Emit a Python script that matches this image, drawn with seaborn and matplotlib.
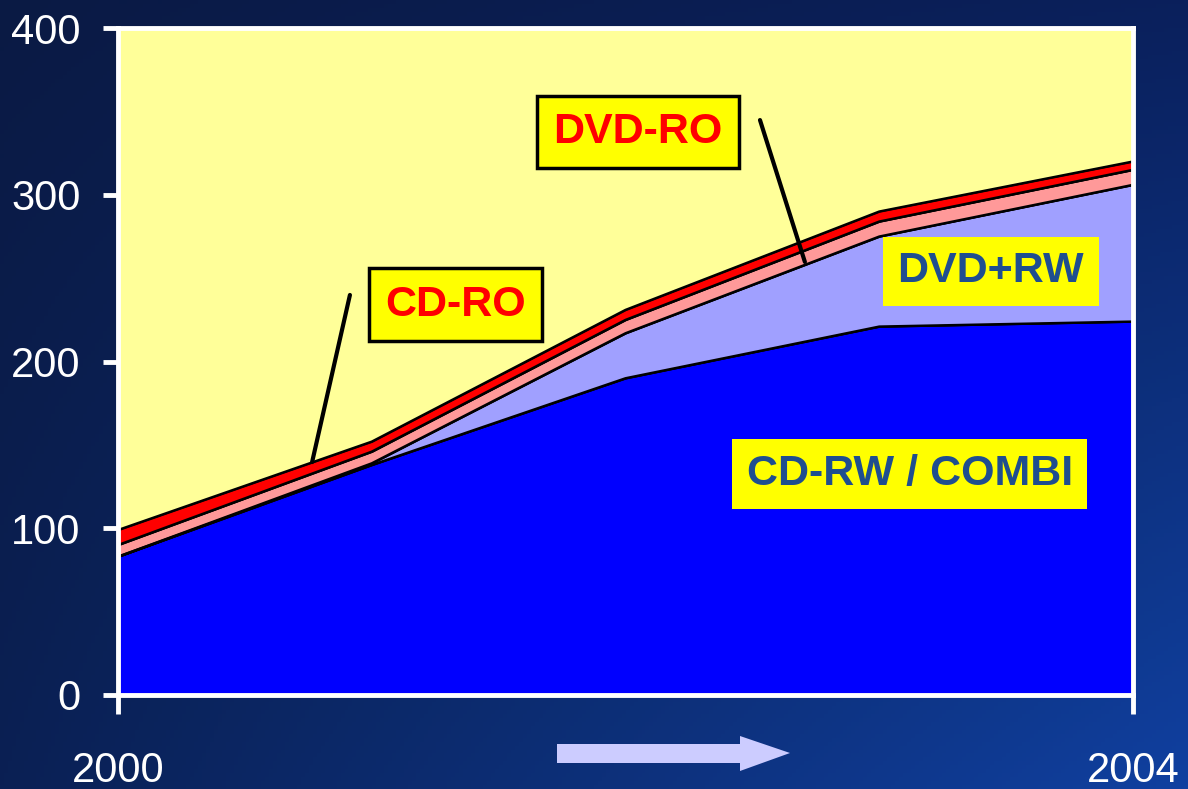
import numpy as np
import pandas as pd
import matplotlib
matplotlib.use("Agg")
import matplotlib.pyplot as plt
from matplotlib.patches import Polygon
import seaborn as sns

# ---- data (drive units, stacked) ----
years = [2000, 2001, 2002, 2003, 2004]
cd_rw_combi = [83, 138, 190, 221, 224]
dvd_plus_rw = [0, 1, 27, 54, 82]
dvd_ro = [7, 7, 8, 9, 9]
cd_ro = [9, 6, 6, 6, 5]
layer_names = ["CD-RW / COMBI", "DVD+RW", "DVD-RO", "CD-RO"]
layer_colors = ["#0000FF", "#A0A0FF", "#FF9999", "#FF0000"]
y_ticks = [0, 100, 200, 300, 400]
x_ticks = [2000, 2004]

sns.set_theme(style="white")
plt.rcParams["font.family"] = ["Liberation Sans", "DejaVu Sans"]

W, H = 1188, 789
fig = plt.figure(figsize=(W / 100, H / 100), dpi=100)

# dark blue gradient backdrop
bg = fig.add_axes([0, 0, 1, 1], zorder=-10)
gx = np.linspace(0, 1, 300)[None, :]
gy = np.linspace(0, 1, 200)[:, None]
tl = np.array([10, 26, 68]) / 255
tr = np.array([10, 32, 92]) / 255
bl = np.array([10, 32, 84]) / 255
br = np.array([16, 64, 160]) / 255
grad = ((1 - gx)[..., None] * (1 - gy)[..., None] * tl + gx[..., None] * (1 - gy)[..., None] * tr
        + (1 - gx)[..., None] * gy[..., None] * bl + gx[..., None] * gy[..., None] * br)
bg.imshow(grad, aspect="auto", extent=[0, 1, 0, 1], origin="upper")
bg.axis("off")

ax = fig.add_axes([118 / W, 94 / H, 1015 / W, 667 / H])
ax.set_facecolor("#FFFF99")

layers = [cd_rw_combi, dvd_plus_rw, dvd_ro, cd_ro]
ax.stackplot(years, *layers, colors=layer_colors, edgecolor="black", linewidth=1.2, zorder=2)

# boundary lines between the stacked layers
cum = np.cumsum(np.array(layers, dtype=float), axis=0)
long = pd.DataFrame({
    "year": np.tile(years, len(layer_names)),
    "top": cum.ravel(),
    "layer": np.repeat(layer_names, len(years)),
})
sns.lineplot(data=long, x="year", y="top", hue="layer", palette=["black"] * 4,
             linewidth=1.6, legend=False, ax=ax, zorder=3)

ax.set_xlim(2000, 2004)
ax.set_ylim(0, 400)
ax.set_xlabel("")
ax.set_ylabel("")
ax.set_xticks(x_ticks)
ax.set_xticklabels([str(v) for v in x_ticks])
ax.set_yticks(y_ticks)
ax.set_yticklabels([str(v) for v in y_ticks])
for s in ax.spines.values():
    s.set_color("white")
    s.set_linewidth(3.5)
    s.set_zorder(5)
ax.tick_params(axis="y", colors="white", labelcolor="white", length=11, width=3.5,
               pad=16, labelsize=30, left=True)
ax.tick_params(axis="x", colors="white", labelcolor="white", length=14, width=3.5,
               pad=26, labelsize=30, bottom=True)
ax.grid(False)

# callout labels
label_font = dict(fontsize=31, fontweight="bold", ha="center", va="center", zorder=6)
ax.text(2001.33, 234, "CD-RO", color="#FF0000",
        bbox=dict(boxstyle="square,pad=0.38", fc="#FFFF00", ec="black", lw=2.5), **label_font)
ax.text(2002.05, 337.6, "DVD-RO", color="#FF0000",
        bbox=dict(boxstyle="square,pad=0.38", fc="#FFFF00", ec="black", lw=2.5), **label_font)
ax.text(2003.44, 254, "DVD+RW", color="#1F4E8F",
        bbox=dict(boxstyle="square,pad=0.34", fc="#FFFF00", ec="none"), **label_font)
ax.text(2003.12, 132.5, "CD-RW / COMBI", color="#1F4E8F",
        bbox=dict(boxstyle="square,pad=0.34", fc="#FFFF00", ec="none"), **label_font)

# leader lines from the labels to their layers
ax.plot([2000.914, 2000.765], [239.9, 139.7], color="black", lw=3, zorder=6)
ax.plot([2002.53, 2002.707], [344.8, 259.7], color="black", lw=3, zorder=6)

# time arrow under the axis
pts = [(557, 744), (740, 744), (740, 736), (790, 753), (740, 771), (740, 763), (557, 763)]
arrow = Polygon([(x / W, 1 - y / H) for x, y in pts], closed=True,
                transform=fig.transFigure, fc="#CCCCFF", ec="none", zorder=4)
fig.patches.append(arrow)

fig.savefig("out.png", dpi=100)
